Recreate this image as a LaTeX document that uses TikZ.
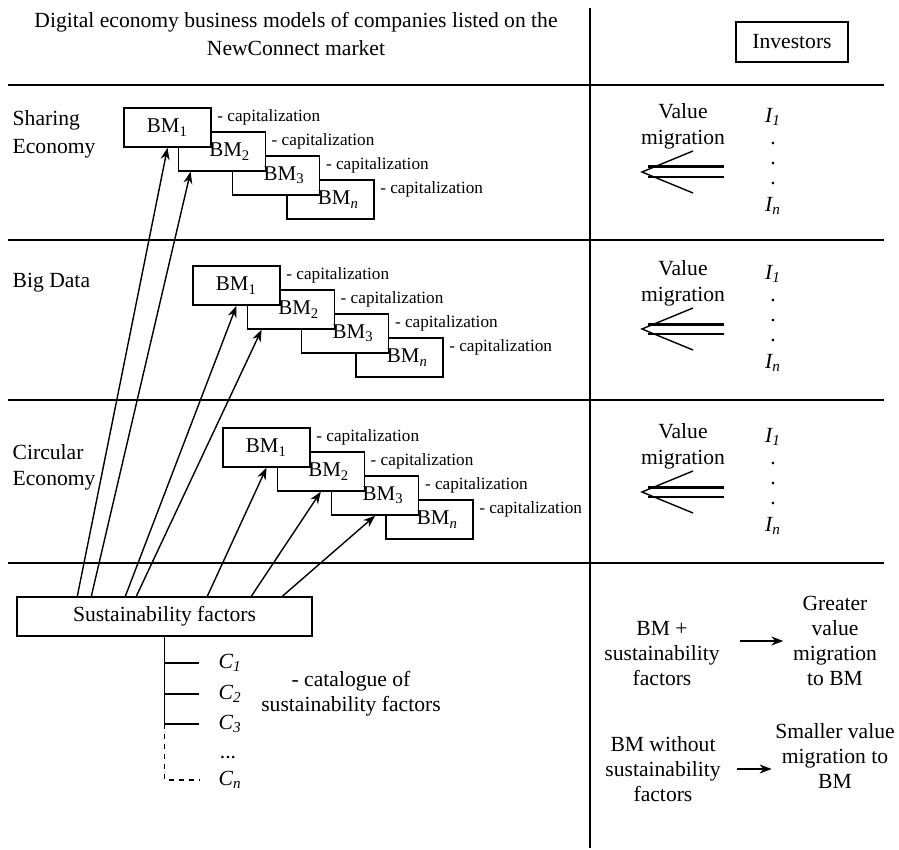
\documentclass[tikz,border=0pt]{standalone}
\usepackage{fontspec}
\setmainfont{Liberation Serif}
\usetikzlibrary{arrows.meta, positioning}
\tikzset{>={Stealth[length=6pt,width=4.5pt]}}
\tikzset{
  txt/.style={inner sep=0pt, align=center, font=\fontsize{10.8}{12.5}\selectfont},
  bmbox/.style={draw, fill=white, minimum width=43.5pt, minimum height=19.5pt, inner sep=0pt},
  bmtxt/.style={inner sep=0pt, font=\fontsize{10.5}{12}\selectfont},
  capital/.style={inner sep=0pt, anchor=west, font=\fontsize{8.6}{10}\selectfont},
  catline/.style={dash pattern=on 2.5pt off 2.5pt}
}

\begin{document}
\begin{tikzpicture}[x=0.5pt, y=-0.5pt, line width=0.7pt]
  \useasboundingbox (0,0) rectangle (899,850);
  % header and grid
  \node[txt, font=\fontsize{10.8}{14}\selectfont] (title) at (296,34) {Digital economy business models of companies listed on the\\NewConnect market};
  \node[txt, draw, minimum width=56pt, minimum height=20pt] (inv) at (792,42) {Investors};
  \draw (590,8)--(590,848);
  \foreach \y in {85,240,400,563} \draw (8,\y)--(884,\y);

  % rows
  \node[txt, anchor=west, align=left, font=\fontsize{10.8}{14}\selectfont] (sharing) at (12,134) {Sharing\\Economy};
  \node[txt, anchor=west] (bigdata) at (12,283) {Big Data};
  \node[txt, anchor=west, align=left, font=\fontsize{10.8}{13}\selectfont] (circular) at (12,467) {Circular\\Economy};

  % business model boxes, back to front
  \foreach \r/\x/\y in {sh/124/108, bd/193/266, ce/223/428} {
    \foreach \i in {4,3,2,1}
      \node[bmbox] (\r\i) at ({\x+43.5+54.3*(\i-1)},{\y+19.5+24*(\i-1)}) {};
    \foreach \i/\s in {1/1, 2/2, 3/3, 4/\textit{n}} {
      \node[bmtxt] (\r t\i) at ([xshift={4*(\i>1)}]\r\i.center) {BM\textsubscript{\s}};
      \node[capital] (\r c\i) at ([shift={(2.5pt,-5pt)}]\r\i.north east) {- capitalization};
    }
  }

  % value migration
  \foreach \r/\y in {sh/85, bd/242, ce/405} {
    \node[txt, font=\fontsize{10.8}{13}\selectfont] (vm\r) at (683,\y+41) {Value\\migration};
    \draw[line width=1.5pt] (648,\y+82)--(724,\y+82);
    \draw (648,\y+92)--(724,\y+92);
    \draw (693,\y+66)--(642,\y+87)--(693,\y+108);
    \node[txt] (\r i1) at (773,\y+32) {\textit{I\textsubscript{1}}};
    \foreach \d in {59,79,99} \node[txt] at (773,\y+\d) {.};
    \node[txt] (\r in) at (773,\y+121) {\textit{I\textsubscript{n}}};
  }

  % sustainability factors
  \node[txt, draw, minimum width=147.5pt, minimum height=19.5pt] (sf) at (164.5,616.5) {Sustainability factors};
  \draw[->] ([xshift=30.5pt]sf.north west)--(sh1.south);
  \draw[->] ([xshift=37.5pt]sf.north west)--([xshift=6.5pt]sh2.south west);
  \draw[->] ([xshift=54.5pt]sf.north west)--(bd1.south);
  \draw[->] ([xshift=60pt]sf.north west)--([xshift=7.5pt]bd2.south west);
  \draw[->] ([xshift=95.5pt]sf.north west)--(ce1.south);
  \draw[->] ([xshift=117.5pt]sf.north west)--(ce2.south);
  \draw[->] ([xshift=133pt]sf.north west)--(ce3.south);

  % catalogue
  \node[txt, anchor=west] (cat1) at (218,663) {\textit{C\textsubscript{1}}};
  \node[txt, anchor=west] (cat2) at (218,694) {\textit{C\textsubscript{2}}};
  \node[txt, anchor=west] (cat3) at (218,724) {\textit{C\textsubscript{3}}};
  \node[txt] (catdots) at (228,758) {...};
  \node[txt, anchor=west] (catn) at (218,780) {\textit{C\textsubscript{n}}};
  \draw (sf.south)--(sf.south |- cat3)--([xshift=-9.5pt]cat3.west);
  \draw (sf.south |- cat1)--([xshift=-9.5pt]cat1.west);
  \draw (sf.south |- cat2)--([xshift=-9.5pt]cat2.west);
  \draw[catline] (sf.south |- cat3) |- ([xshift=-9.5pt]catn.west);
  \node[txt] (catalogue) at (351,694) {- catalogue of\\sustainability factors};

  % legend
  \node[txt] (plus) at (662,654) {BM +\\sustainability\\factors};
  \node[txt] (greater) at (835,641) {Greater\\value\\migration\\to BM};
  \draw[->, shorten <=10pt, shorten >=4.5pt] (plus.east |- greater.west)--(greater.west);
  \node[txt] (without) at (663,769) {BM without\\sustainability\\factors};
  \node[txt] (smaller) at (835,756) {Smaller value\\migration to\\BM};
  \draw[->, shorten <=8pt, shorten >=1.5pt] (without.east)--(without.east -| smaller.west);
\end{tikzpicture}
\end{document}
